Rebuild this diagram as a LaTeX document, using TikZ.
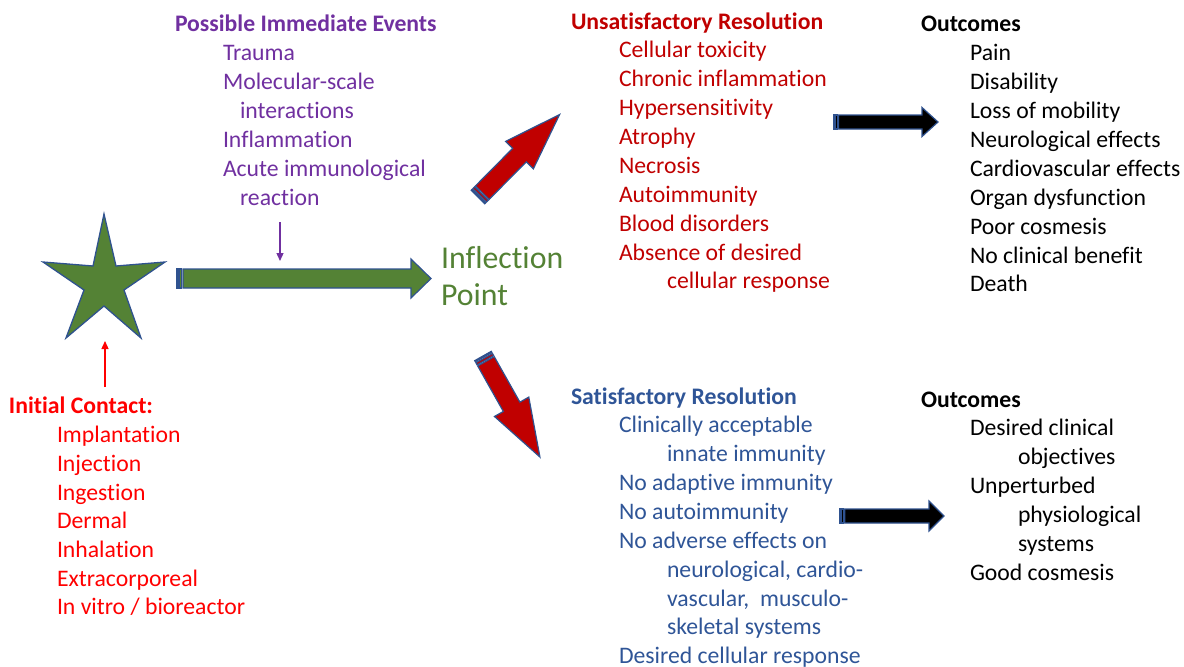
\documentclass[tikz,border=0pt]{standalone}
\usepackage{fontspec}
\setmainfont{Carlito}[Ligatures={NoCommon}]
\usetikzlibrary{arrows.meta}

\definecolor{evpurple}{HTML}{7030A0}
\definecolor{unsatred}{HTML}{C00000}
\definecolor{contactred}{HTML}{FF0000}
\definecolor{satblue}{HTML}{2F5597}
\definecolor{leafgreen}{HTML}{548235}
\definecolor{edgeblue}{HTML}{2F528F}

\tikzset{
  txt/.style={anchor=base west, inner sep=0pt, outer sep=0pt,
              font=\fontsize{23.7}{29}\selectfont},
  hdr/.style={txt, font=\fontsize{23.7}{29}\selectfont\bfseries},
  bigtxt/.style={anchor=base west, inner sep=0pt, outer sep=0pt,
              font=\fontsize{31.8}{37}\selectfont, text=leafgreen},
  arrowline/.style={draw=edgeblue, line width=1.2pt, line join=miter, pic actions},
  % striped block arrow: length / shaft half width / head half width / head length / base size
  pics/stripedarrow/.style args={#1/#2/#3/#4/#5}{code={
    \path[arrowline] (0,-#2) rectangle ({#5/32},#2);
    \path[arrowline] ({#5/16},-#2) rectangle ({#5/8},#2);
    \path[arrowline] ({5*#5/32},-#2) -- ({#1-#4},-#2) -- ({#1-#4},-#3) -- (#1,0)
        -- ({#1-#4},#3) -- ({#1-#4},#2) -- ({5*#5/32},#2) -- cycle;
  }},
  thinarrow/.style={line width=1.3pt, -{Triangle[length=8pt,width=7pt]}}
}

\begin{document}
\begin{tikzpicture}[x=1pt,y=-1pt]
\useasboundingbox (0,0) rectangle (1184,667);

% star marking the material
\path[fill=leafgreen, draw=edgeblue, line width=1.3pt, line join=miter]
  (104,214) -- (116,266) -- (165,262) -- (124,290) -- (141,338) -- (104,306)
  -- (66,338) -- (84,290) -- (43,262) -- (93,266) -- cycle;
\coordinate (starbase) at (105,341);
\coordinate (contactup) at (105,387);

% block arrows
\pic[fill=leafgreen] at (177,278.5) {stripedarrow=254/9.5/19.5/20/39};
\pic[fill=unsatred, rotate=45.3] at (478,197) {stripedarrow=116/9.6/19.5/57/39};
\pic[fill=unsatred, rotate=-60.6] at (483,356) {stripedarrow=116/9.5/19.7/57.7/39};
\pic[fill=black] at (834,122) {stripedarrow=104/7/14.5/16/29};
\pic[fill=black] at (840,516) {stripedarrow=104/7/15/15/30};

% small pointers
\coordinate (evbottom) at (280,222);
\coordinate (evtarget) at (280,261);
\draw[thinarrow, evpurple] (evbottom) -- (evtarget);
\draw[thinarrow, contactred] (contactup) -- (starbase);

% possible immediate events
\begin{scope}[text=evpurple]
\node[hdr] (evh) at (175,31) {Possible Immediate Events};
\node[txt] (ev1) at (223,60) {Trauma};
\node[txt] (ev2) at (223,89) {Molecular-scale};
\node[txt] (ev3) at (240,118) {interactions};
\node[txt] (ev4) at (223,147) {Inflammation};
\node[txt] (ev5) at (223,176) {Acute immunological};
\node[txt] (ev6) at (240,205) {reaction};
\end{scope}

% inflection point
\node[bigtxt] (ip1) at (441,268) {Inflection};
\node[bigtxt] (ip2) at (441,305) {Point};

% unsatisfactory resolution
\begin{scope}[text=unsatred]
\node[hdr] (uh) at (571,29) {Unsatisfactory Resolution};
\node[txt] (u1) at (619,57) {Cellular toxicity};
\node[txt] (u2) at (619,86) {Chronic inflammation};
\node[txt] (u3) at (619,115) {Hypersensitivity};
\node[txt] (u4) at (619,144) {Atrophy};
\node[txt] (u5) at (619,173) {Necrosis};
\node[txt] (u6) at (619,202) {Autoimmunity};
\node[txt] (u7) at (619,231) {Blood disorders};
\node[txt] (u8) at (619,260) {Absence of desired};
\node[txt] (u9) at (667,288) {cellular response};
\end{scope}

% outcomes of unsatisfactory resolution
\node[hdr] (oh1) at (921,31) {Outcomes};
\node[txt] (o1) at (970,60) {Pain};
\node[txt] (o2) at (970,89) {Disability};
\node[txt] (o3) at (970,118) {Loss of mobility};
\node[txt] (o4) at (970,147) {Neurological effects};
\node[txt] (o5) at (970,176) {Cardiovascular effects};
\node[txt] (o6) at (970,205) {Organ dysfunction};
\node[txt] (o7) at (970,234) {Poor cosmesis};
\node[txt] (o8) at (970,263) {No clinical benefit};
\node[txt] (o9) at (970,291) {Death};

% initial contact
\begin{scope}[text=contactred]
\node[hdr] (ch) at (9,413) {Initial Contact:};
\node[txt] (c1) at (57,442) {Implantation};
\node[txt] (c2) at (57,471) {Injection};
\node[txt] (c3) at (57,500) {Ingestion};
\node[txt] (c4) at (57,528) {Dermal};
\node[txt] (c5) at (57,557) {Inhalation};
\node[txt] (c6) at (57,586) {Extracorporeal};
\node[txt] (c7) at (57,614) {In vitro / bioreactor};
\end{scope}

% satisfactory resolution
\begin{scope}[text=satblue]
\node[hdr] (sh) at (571,404) {Satisfactory Resolution};
\node[txt] (s1) at (619,432) {Clinically acceptable};
\node[txt] (s2) at (667,461) {innate immunity};
\node[txt] (s3) at (619,490) {No adaptive immunity};
\node[txt] (s4) at (619,519) {No autoimmunity};
\node[txt] (s5) at (619,548) {No adverse effects on};
\node[txt] (s6) at (667,577) {neurological, cardio-};
\node[txt] (s7) at (667,606) {vascular,\ \ musculo-};
\node[txt] (s8) at (667,634) {skeletal systems};
\node[txt] (s9) at (619,663) {Desired cellular response};
\end{scope}

% outcomes of satisfactory resolution
\node[hdr] (oh2) at (921,407) {Outcomes};
\node[txt] (g1) at (970,435) {Desired clinical};
\node[txt] (g2) at (1018,464) {objectives};
\node[txt] (g3) at (970,493) {Unperturbed};
\node[txt] (g4) at (1018,522) {physiological};
\node[txt] (g5) at (1018,551) {systems};
\node[txt] (g6) at (970,580) {Good cosmesis};
\end{tikzpicture}
\end{document}
